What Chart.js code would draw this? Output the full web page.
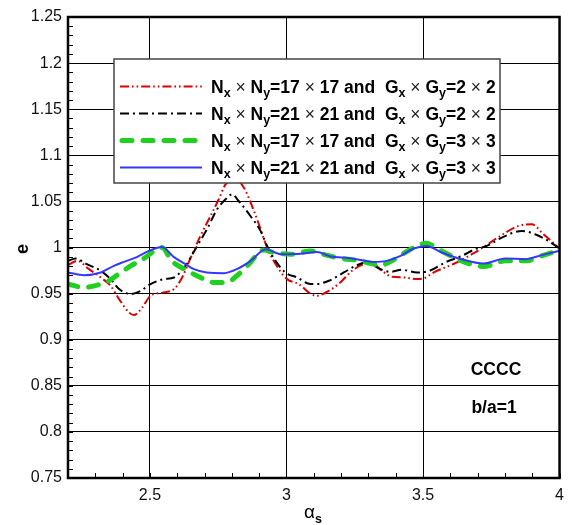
<!DOCTYPE html>
<html>
<head>
<meta charset="utf-8">
<script src="https://cdn.jsdelivr.net/npm/chart.js@4/dist/chart.umd.min.js"></script>
<style>
  html, body { margin: 0; padding: 0; background: #fff; }
  canvas { display: block; }
</style>
</head>
<body>
<canvas id="chart" width="572" height="525"></canvas>
<script>
// Efficiency e versus alpha_s for the CCCC plate (b/a = 1)
// Nx x Ny = 17 x 17, Gx x Gy = 2 x 2
const alphaN17G2 = [2.2, 2.234, 2.277, 2.32, 2.356, 2.387, 2.423, 2.441, 2.472, 2.502, 2.551, 2.588, 2.618, 2.645, 2.685, 2.722, 2.752, 2.777, 2.81, 2.844, 2.874, 2.899, 2.929, 2.972, 3.002, 3.045, 3.09, 3.11, 3.155, 3.197, 3.24, 3.283, 3.313, 3.35, 3.386, 3.429, 3.478, 3.502, 3.54, 3.624, 3.679, 3.728, 3.783, 3.85, 3.898, 3.941, 4.0];
const eN17G2 = [0.981, 0.9855, 0.9765, 0.9675, 0.9584, 0.944, 0.9297, 0.9267, 0.9351, 0.9476, 0.9513, 0.9549, 0.9675, 0.986, 1.0126, 1.0342, 1.0523, 1.0685, 1.075, 1.0649, 1.045, 1.0252, 1.0, 0.9765, 0.9657, 0.9603, 0.9495, 0.9476, 0.953, 0.9621, 0.9747, 0.9819, 0.9827, 0.9747, 0.9682, 0.9675, 0.9657, 0.9665, 0.973, 0.9838, 0.9927, 1.0017, 1.0126, 1.0234, 1.0252, 1.0144, 0.999];

// Nx x Ny = 21 x 21, Gx x Gy = 2 x 2
const alphaN21G2 = [2.2, 2.228, 2.269, 2.32, 2.356, 2.387, 2.429, 2.466, 2.502, 2.551, 2.588, 2.63, 2.673, 2.709, 2.746, 2.777, 2.801, 2.825, 2.868, 2.905, 2.929, 2.96, 2.996, 3.039, 3.088, 3.106, 3.155, 3.21, 3.258, 3.295, 3.338, 3.38, 3.423, 3.478, 3.526, 3.581, 3.642, 3.691, 3.734, 3.789, 3.862, 3.91, 3.959, 4.0];
const eN21G2 = [0.9855, 0.9881, 0.9819, 0.9747, 0.9657, 0.9549, 0.9495, 0.953, 0.9603, 0.9657, 0.9675, 0.9801, 1.0017, 1.0198, 1.0414, 1.0523, 1.0577, 1.0504, 1.0342, 1.018, 1.0017, 0.9855, 0.9729, 0.9675, 0.9603, 0.9603, 0.9639, 0.9729, 0.9808, 0.9838, 0.9773, 0.9736, 0.9758, 0.9729, 0.975, 0.9838, 0.9909, 0.9982, 1.0017, 1.0108, 1.018, 1.0144, 1.0071, 0.9989];

// Nx x Ny = 17 x 17, Gx x Gy = 3 x 3
const alphaN17G3 = [2.2, 2.259, 2.307, 2.35, 2.393, 2.434, 2.478, 2.521, 2.544, 2.58, 2.63, 2.685, 2.734, 2.782, 2.818, 2.862, 2.917, 2.953, 3.016, 3.089, 3.147, 3.199, 3.246, 3.294, 3.345, 3.392, 3.455, 3.51, 3.568, 3.641, 3.722, 3.802, 3.875, 3.934, 4.0];
const eN17G3 = [0.9603, 0.9567, 0.9592, 0.9639, 0.9729, 0.9808, 0.9881, 0.9974, 1.0, 0.9855, 0.976, 0.9675, 0.9621, 0.9621, 0.9693, 0.9819, 0.9974, 0.9946, 0.9927, 0.9963, 0.9917, 0.9881, 0.9866, 0.9838, 0.9808, 0.9866, 0.9982, 1.0045, 0.9963, 0.9855, 0.9794, 0.9855, 0.9855, 0.9909, 0.997];

// Nx x Ny = 21 x 21, Gx x Gy = 3 x 3
const alphaN21G3 = [2.2, 2.259, 2.32, 2.368, 2.405, 2.452, 2.496, 2.544, 2.588, 2.63, 2.661, 2.708, 2.771, 2.818, 2.869, 2.924, 2.979, 3.052, 3.111, 3.162, 3.21, 3.257, 3.319, 3.367, 3.418, 3.466, 3.513, 3.568, 3.641, 3.722, 3.802, 3.875, 3.934, 4.0];
const eN21G3 = [0.9729, 0.97, 0.9729, 0.9801, 0.9844, 0.9895, 0.9963, 1.0006, 0.9895, 0.9819, 0.9765, 0.9729, 0.9722, 0.9765, 0.9855, 0.9982, 0.9927, 0.9932, 0.9952, 0.9903, 0.9892, 0.9873, 0.9844, 0.9855, 0.9909, 0.9989, 1.0017, 0.9946, 0.9873, 0.9827, 0.9881, 0.9873, 0.9917, 0.9965];

// Legend grid sizes
const meshN = ['17', '21', '17', '21'];
const meshG = ['2', '2', '3', '3'];

// Axis ticks
const xTickValues = [2.5, 3, 3.5, 4];
const xTickLabels = ['2.5', '3', '3.5', '4'];
const yTickValues = [0.75, 0.8, 0.85, 0.9, 0.95, 1, 1.05, 1.1, 1.15, 1.2, 1.25];
const yTickLabels = ['0.75', '0.8', '0.85', '0.9', '0.95', '1', '1.05', '1.1', '1.15', '1.2', '1.25'];

const FONT = '"Liberation Sans", Arial, sans-serif';

const styles = [
  { color: '#dd0000', width: 2, dash: [9, 3, 1.6, 3, 1.6, 3], cap: 'butt' },
  { color: '#000000', width: 2, dash: [9, 4, 2, 4], cap: 'butt' },
  { color: '#1fd01f', width: 5, dash: [10, 11], cap: 'round' },
  { color: '#3636ff', width: 2, dash: [], cap: 'butt' }
];

const xs = [alphaN17G2, alphaN21G2, alphaN17G3, alphaN21G3];
const ys = [eN17G2, eN21G2, eN17G3, eN21G3];

const datasets = xs.map((ax, k) => ({
  label: 'Nx×Ny=' + meshN[k] + '×' + meshN[k] + ' and Gx×Gy=' + meshG[k] + '×' + meshG[k],
  data: ax.map((v, i) => ({ x: v, y: ys[k][i] })),
  borderColor: styles[k].color,
  borderWidth: styles[k].width,
  borderDash: styles[k].dash,
  borderCapStyle: styles[k].cap,
  borderJoinStyle: 'round',
  pointRadius: 0,
  fill: false,
  cubicInterpolationMode: 'monotone'
}));
// draw the blue line on top, then green, black, red
datasets.forEach((d, k) => { d.order = 4 - k; });

function drawRich(ctx, x, base, parts) {
  for (const p of parts) {
    ctx.font = p.f;
    ctx.fillStyle = p.c || '#000';
    ctx.fillText(p.t, x, base + (p.dy || 0));
    x += ctx.measureText(p.t).width;
  }
  return x;
}

const decorations = {
  id: 'decorations',
  beforeDatasetsDraw(chart) {
    const { ctx, chartArea: a, scales: { x, y } } = chart;
    ctx.save();
    ctx.strokeStyle = '#000';
    ctx.lineWidth = 1;
    ctx.beginPath();
    // minor ticks on the bottom axis every 0.1
    for (let i = 22; i <= 40; i++) {
      const px = Math.round(x.getPixelForValue(i / 10)) + 0.5;
      ctx.moveTo(px, a.bottom);
      ctx.lineTo(px, a.bottom - 5);
    }
    // minor ticks on the left axis every 0.01
    for (let i = 75; i <= 125; i++) {
      const py = Math.round(y.getPixelForValue(i / 100)) + 0.5;
      ctx.moveTo(a.left, py);
      ctx.lineTo(a.left + 5, py);
    }
    ctx.stroke();
    ctx.restore();
  },
  afterDatasetsDraw(chart) {
    const { ctx, chartArea: a } = chart;
    ctx.save();
    // legend box
    const bx = 114, by = 59, bw = 386, bh = 124;
    ctx.fillStyle = '#fff';
    ctx.fillRect(bx, by, bw, bh);
    ctx.strokeStyle = '#444';
    ctx.lineWidth = 1.5;
    ctx.strokeRect(bx, by, bw, bh);

    const B = 'bold 17.5px ' + FONT;
    const S = 'bold 12.5px ' + FONT;
    const R = '17.5px ' + FONT;
    ctx.textBaseline = 'alphabetic';
    ctx.textAlign = 'left';
    for (let k = 0; k < 4; k++) {
      const rowY = 86.5 + k * 27;
      const st = styles[k];
      ctx.strokeStyle = st.color;
      ctx.lineWidth = st.width;
      ctx.setLineDash(st.dash);
      ctx.lineCap = st.cap;
      ctx.beginPath();
      ctx.moveTo(st.cap === 'round' ? 122 : 120, rowY);
      ctx.lineTo(st.cap === 'round' ? 200 : 202, rowY);
      ctx.stroke();
      ctx.setLineDash([]);
      ctx.lineCap = 'butt';
      const n = meshN[k], g = meshG[k];
      drawRich(ctx, 211, rowY + 6.5, [
        { t: 'N', f: B }, { t: 'x', f: S, dy: 4 }, { t: ' × ', f: R, c: '#222' },
        { t: 'N', f: B }, { t: 'y', f: S, dy: 4 }, { t: '=' + n + ' ', f: B },
        { t: '×', f: R, c: '#222' }, { t: ' ' + n + ' and  G', f: B },
        { t: 'x', f: S, dy: 4 }, { t: ' × ', f: R, c: '#222' },
        { t: 'G', f: B }, { t: 'y', f: S, dy: 4 }, { t: '=' + g + ' ', f: B },
        { t: '×', f: R, c: '#222' }, { t: ' ' + g, f: B }
      ]);
    }

    // case annotations
    ctx.fillStyle = '#000';
    ctx.textAlign = 'center';
    ctx.textBaseline = 'middle';
    ctx.font = 'bold 17.5px ' + FONT;
    ctx.fillText('CCCC', 496, 370);
    ctx.fillText('b/a=1', 494, 408);
    ctx.restore();
  },
  afterDraw(chart) {
    const { ctx, chartArea: a } = chart;
    ctx.save();
    // plot frame
    ctx.strokeStyle = '#000';
    ctx.lineWidth = 2.5;
    ctx.strokeRect(a.left, a.top, a.right - a.left, a.bottom - a.top);

    // axis titles
    ctx.fillStyle = '#000';
    ctx.textAlign = 'center';
    ctx.textBaseline = 'middle';
    ctx.save();
    ctx.translate(23, 249);
    ctx.rotate(-Math.PI / 2);
    ctx.font = 'bold 18px ' + FONT;
    ctx.fillText('e', 0, 0);
    ctx.restore();

    ctx.textAlign = 'left';
    ctx.textBaseline = 'alphabetic';
    drawRich(ctx, 304, 518, [
      { t: 'α', f: '19px ' + FONT },
      { t: 's', f: 'bold 12.5px ' + FONT, dy: 5 }
    ]);
    ctx.restore();
  }
};

new Chart(document.getElementById('chart'), {
  type: 'line',
  data: { datasets },
  plugins: [decorations],
  options: {
    responsive: false,
    animation: false,
    devicePixelRatio: 1,
    layout: { padding: { top: 17, right: 11, left: 0, bottom: 0 } },
    plugins: { legend: { display: false }, tooltip: { enabled: false } },
    scales: {
      x: {
        type: 'linear',
        min: 2.2,
        max: 4,
        afterBuildTicks: s => { s.ticks = xTickValues.map(v => ({ value: v })); },
        afterFit: s => { s.height = 47; },
        ticks: {
          callback: (v, i) => xTickLabels[i],
          font: { family: FONT, size: 16 },
          color: '#111',
          padding: 8,
          maxRotation: 0,
          autoSkip: false
        },
        grid: { color: '#000', lineWidth: 1, drawTicks: false },
        border: { display: false }
      },
      y: {
        type: 'linear',
        min: 0.75,
        max: 1.25,
        afterBuildTicks: s => { s.ticks = yTickValues.map(v => ({ value: v })); },
        afterFit: s => { s.width = 68; },
        ticks: {
          callback: (v, i) => yTickLabels[i],
          font: { family: FONT, size: 16 },
          color: '#111',
          padding: 6,
          autoSkip: false
        },
        grid: { color: '#000', lineWidth: 1, drawTicks: false },
        border: { display: false }
      }
    }
  }
});
</script>
</body>
</html>
